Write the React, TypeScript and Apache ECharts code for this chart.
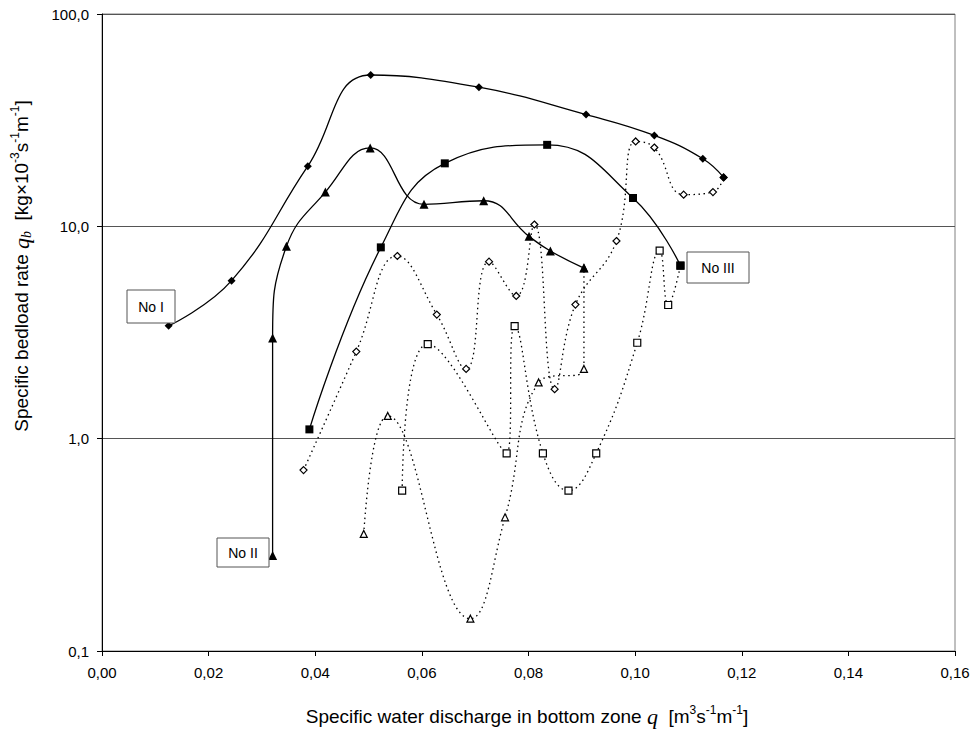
import React, { useEffect, useRef } from 'react';
import * as echarts from 'echarts';

// Series "No I" (filled diamonds, solid)
const s1X = [0.0125, 0.0243, 0.0386, 0.0504, 0.0707, 0.0908, 0.1036, 0.1127, 0.1166];
const s1Y = [3.4, 5.55, 19.2, 51.6, 45.2, 33.6, 26.8, 20.8, 17.0];
// Series "No II" (filled triangles, solid)
const s2X = [0.032, 0.032, 0.0346, 0.0419, 0.0503, 0.0604, 0.0716, 0.0801, 0.0841, 0.0904];
const s2Y = [0.282, 2.98, 8.05, 14.5, 23.4, 12.7, 13.2, 8.97, 7.65, 6.36];
// Series "No III" (filled squares, solid)
const s3X = [0.0389, 0.0523, 0.0643, 0.0835, 0.0996, 0.1085];
const s3Y = [1.106, 7.96, 19.8, 24.2, 13.6, 6.53];
// Open diamonds (dotted)
const o1X = [0.0378, 0.0477, 0.0554, 0.0628, 0.0683, 0.0726, 0.0777, 0.0811, 0.0849, 0.0888, 0.0965, 0.1001, 0.1036, 0.1091, 0.1146, 0.1166];
const o1Y = [0.711, 2.57, 7.25, 3.84, 2.13, 6.82, 4.7, 10.2, 1.71, 4.28, 8.53, 25.1, 23.5, 14.1, 14.5, 17.0];
// Open triangles (dotted)
const o2X = [0.0491, 0.0536, 0.0691, 0.0756, 0.0819, 0.0904, 0.0904];
const o2Y = [0.356, 1.28, 0.142, 0.426, 1.84, 2.13, 6.36];
// Open squares (dotted)
const o3X = [0.0563, 0.0611, 0.0759, 0.0774, 0.0827, 0.0875, 0.0927, 0.1004, 0.1046, 0.1062, 0.1085];
const o3Y = [0.569, 2.79, 0.853, 3.39, 0.853, 0.569, 0.853, 2.83, 7.68, 4.26, 6.53];

const labelNames = ['No I', 'No II', 'No III'];

const FONT = '"Liberation Sans", Arial, Helvetica, sans-serif';
const SERIF = '"Liberation Serif", "Times New Roman", serif';

const pairs = (xs: number[], ys: number[]) => xs.map((x, i) => [x, ys[i]]);

export default function App() {
  const ref = useRef<HTMLDivElement>(null);
  useEffect(() => {
    if (!ref.current) return;
    const chart = echarts.init(ref.current, undefined, { renderer: 'svg' });

    const solid = (name: string, xs: number[], ys: number[], symbol: string, size: number) => ({
      name,
      type: 'line',
      data: pairs(xs, ys),
      smooth: 0.45,
      symbol,
      symbolSize: size,
      showAllSymbol: true,
      lineStyle: { color: '#000', width: 1.3 },
      itemStyle: { color: '#000', borderColor: '#000', borderWidth: 0 },
      z: 5,
    });
    const dotted = (name: string, xs: number[], ys: number[], symbol: string, size: number) => ({
      name,
      type: 'line',
      data: pairs(xs, ys),
      smooth: 0.45,
      symbol,
      symbolSize: size,
      showAllSymbol: true,
      lineStyle: { color: '#000', width: 1.3, type: [1.5, 3.5] },
      itemStyle: { color: '#fff', borderColor: '#000', borderWidth: 1.2 },
      z: 3,
    });

    const sup = { fontSize: 12, fontFamily: FONT, verticalAlign: 'top', lineHeight: 10, color: '#000' };
    const baseRich = {
      q: { fontSize: 22, fontFamily: SERIF, fontStyle: 'italic', color: '#000', lineHeight: 24, verticalAlign: 'middle' },
      sub: { fontSize: 14, fontFamily: SERIF, fontStyle: 'italic', color: '#000', lineHeight: 12, verticalAlign: 'bottom' },
      sup,
      t: { fontSize: 19, fontFamily: FONT, color: '#000', lineHeight: 24, verticalAlign: 'middle' },
    };

    const box = (text: string, x: number, y: number, w: number, h: number) => ({
      type: 'group',
      z: 20,
      children: [
        { type: 'rect', shape: { x, y, width: w, height: h }, style: { fill: '#fff', stroke: '#555', lineWidth: 1 }, z: 20 },
        {
          type: 'text',
          x: x + w / 2,
          y: y + h / 2,
          z: 21,
          style: { text, align: 'center', verticalAlign: 'middle', fontSize: 14, fontFamily: FONT, fill: '#000' },
        },
      ],
    });

    chart.setOption({
      animation: false,
      backgroundColor: '#fff',
      grid: { left: 102, right: 22, top: 14, bottom: 78, show: true, borderColor: '#808080', borderWidth: 1 },
      xAxis: {
        type: 'value',
        min: 0,
        max: 0.16,
        interval: 0.02,
        axisLine: { show: true, lineStyle: { color: '#000', width: 1 } },
        axisTick: { show: true, inside: false, length: 5, lineStyle: { color: '#000' } },
        axisLabel: {
          color: '#000',
          fontSize: 15,
          fontFamily: FONT,
          margin: 14,
          formatter: (v: number) => v.toFixed(2).replace('.', ','),
        },
        splitLine: { show: false },
      },
      yAxis: {
        type: 'log',
        logBase: 10,
        min: 0.1,
        max: 100,
        axisLine: { show: true, lineStyle: { color: '#000', width: 1 } },
        axisTick: { show: true, inside: false, length: 5, lineStyle: { color: '#000' } },
        minorTick: { show: false },
        axisLabel: {
          color: '#000',
          fontSize: 15,
          fontFamily: FONT,
          margin: 13,
          formatter: (v: number) => v.toFixed(1).replace('.', ','),
        },
        splitLine: { show: true, lineStyle: { color: '#555', width: 1 } },
      },
      graphic: [
        {
          type: 'text',
          x: 21,
          y: 266,
          rotation: Math.PI / 2,
          style: {
            text: '{t|Specific bedload rate }{q|q}{sub|b}{t|  [kg×10}{sup|-3}{t|s}{sup|-1}{t|m}{sup|-1}{t|]}',
            rich: baseRich,
            align: 'center',
            verticalAlign: 'middle',
            fill: '#000',
          },
        },
        {
          type: 'text',
          x: 527,
          y: 716,
          style: {
            text: '{t|Specific water discharge in bottom zone }{q|q}{t|  [m}{sup|3}{t|s}{sup|-1}{t|m}{sup|-1}{t|]}',
            rich: baseRich,
            align: 'center',
            verticalAlign: 'middle',
            fill: '#000',
          },
        },
        box(labelNames[0], 127, 290, 48, 33),
        box(labelNames[1], 217, 538, 52, 29),
        box(labelNames[2], 687, 252, 62, 31),
      ],
      series: [
        dotted('No I open', o1X, o1Y, 'diamond', 7),
        dotted('No II open', o2X, o2Y, 'triangle', 7),
        dotted('No III open', o3X, o3Y, 'rect', 7),
        solid('No I', s1X, s1Y, 'diamond', 8),
        solid('No II', s2X, s2Y, 'triangle', 9),
        solid('No III', s3X, s3Y, 'rect', 8),
      ],
    });
    return () => chart.dispose();
  }, []);
  return <div ref={ref} style={{ position: 'absolute', left: 0, top: 0, width: 977, height: 729 }} />;
}
